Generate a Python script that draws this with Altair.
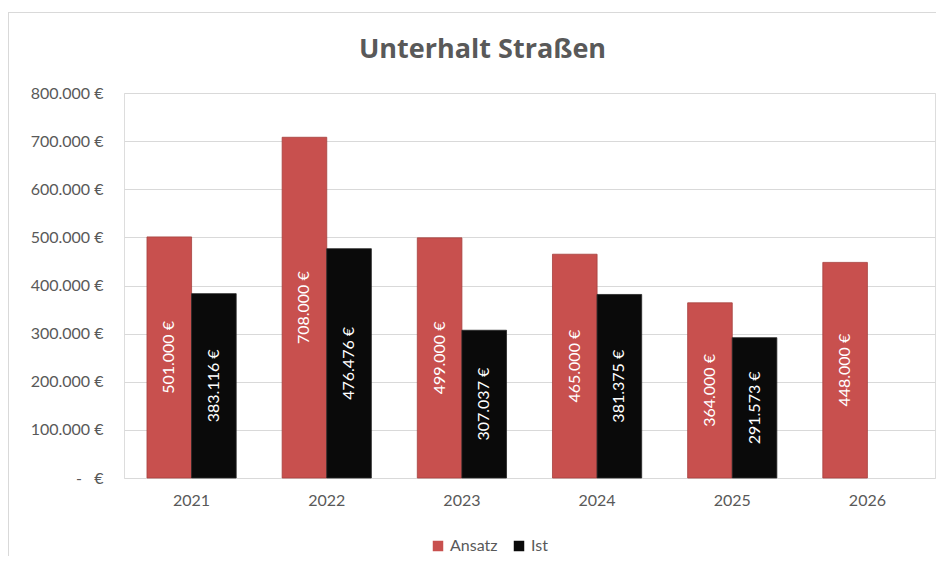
import altair as alt
import pandas as pd

years = ["2021", "2022", "2023", "2024", "2025", "2026"]
ansatz = [501000, 708000, 499000, 465000, 364000, 448000]
ist = [383116, 476476, 307037, 381375, 291573, None]
series = ["Ansatz", "Ist"]
colors = ["#C8504E", "#0A0A0A"]
y_ticks = [0, 100000, 200000, 300000, 400000, 500000, 600000, 700000, 800000]


def de_fmt(v):
    return f"{int(v):,}".replace(",", ".") + " €"


rows = []
for i, y in enumerate(years):
    for s, vals in zip(series, [ansatz, ist]):
        v = vals[i]
        if v is None:
            continue
        rows.append({"Jahr": y, "Serie": s, "Wert": v, "Label": de_fmt(v)})
df = pd.DataFrame(rows)

FONT = "Lato"
GRAY = "#595959"

x_enc = alt.X(
    "Jahr:N",
    sort=years,
    scale=alt.Scale(paddingInner=0.34, paddingOuter=0.17),
    axis=alt.Axis(
        title=None, labelAngle=0, ticks=False, domain=False,
        labelFontSize=16, labelColor=GRAY, labelFont=FONT, labelPadding=14,
    ),
)
xoff = alt.XOffset("Serie:N", sort=series, scale=alt.Scale(paddingInner=0))

base = alt.Chart(df)

bars = base.mark_bar(strokeWidth=0.8).encode(
    x=x_enc,
    xOffset=xoff,
    y=alt.Y(
        "Wert:Q",
        scale=alt.Scale(domain=[0, 800000], nice=False),
        axis=alt.Axis(
            title=None, values=y_ticks, ticks=False, domain=False,
            grid=True, gridColor="#D9D9D9", gridWidth=1,
            labelFontSize=16, labelColor=GRAY, labelFont=FONT, labelPadding=21,
            labelExpr="datum.value == 0 ? '-\u00a0\u00a0\u00a0€' : replace(format(datum.value, ',.0f'), ',', '.') + ' €'",
        ),
    ),
    color=alt.Color(
        "Serie:N",
        sort=series,
        scale=alt.Scale(domain=series, range=colors),
        legend=alt.Legend(
            title=None, orient="none", direction="horizontal",
            legendX=306, legendY=445, symbolType="square", symbolSize=110,
            symbolStrokeWidth=0, labelFontSize=16, labelColor=GRAY, labelFont=FONT,
            labelOffset=4, columnPadding=13, padding=0,
        ),
    ),
    stroke=alt.Stroke(
        "Serie:N", sort=series,
        scale=alt.Scale(domain=series, range=["#A6403E", "#262626"]), legend=None,
    ),
)

labels = base.transform_calculate(mid="datum.Wert / 2").mark_text(
    angle=270, align="center", baseline="middle", color="white",
    fontSize=16, font=FONT,
).encode(
    x=alt.X("Jahr:N", sort=years),
    xOffset=xoff,
    y=alt.Y("mid:Q"),
    text="Label:N",
)

frame_top = alt.Chart(alt.Data(values=[{"a": 1}])).mark_rule(
    color="#D9D9D9", strokeWidth=1
).encode(x=alt.value(-116), x2=alt.value(1000), y=alt.value(-80.5))

frame_left = alt.Chart(alt.Data(values=[{"a": 1}])).mark_rule(
    color="#D9D9D9", strokeWidth=1
).encode(x=alt.value(-115.5), y=alt.value(-81), y2=alt.value(700))

chart = alt.layer(frame_top, frame_left, bars, labels).properties(
    width=811,
    height=385,
    title=alt.TitleParams(
        "Unterhalt Straßen", fontSize=27, font="Open Sans", fontWeight="bold",
        color=GRAY, anchor="middle", dx=-47, offset=-52,
    ),
    autosize=alt.AutoSizeParams(type="none"),
    padding={"left": 116, "top": 85, "right": 1, "bottom": 78},
).configure_view(strokeOpacity=0, strokeWidth=0).configure(background="white")

chart.save("out.html", embed_options={"renderer": "svg", "actions": False})
